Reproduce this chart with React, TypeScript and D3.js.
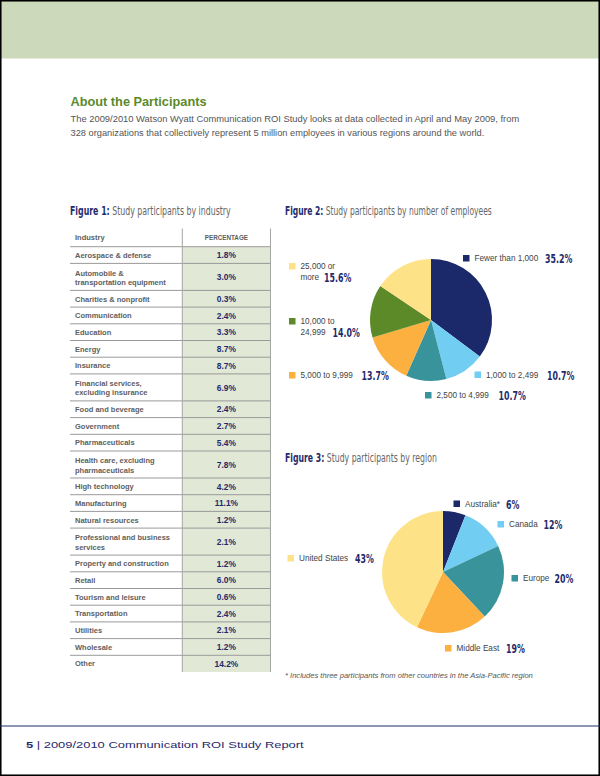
import React from "react";
import * as d3 from "d3";

// ---------- DATA ----------
const industryLabels = [
  "Aerospace & defense",
  "Automobile &\ntransportation equipment",
  "Charities & nonprofit",
  "Communication",
  "Education",
  "Energy",
  "Insurance",
  "Financial services,\nexcluding insurance",
  "Food and beverage",
  "Government",
  "Pharmaceuticals",
  "Health care, excluding\npharmaceuticals",
  "High technology",
  "Manufacturing",
  "Natural resources",
  "Professional and business\nservices",
  "Property and construction",
  "Retail",
  "Tourism and leisure",
  "Transportation",
  "Utilities",
  "Wholesale",
  "Other",
];
const industryValues = [1.8, 3.0, 0.3, 2.4, 3.3, 8.7, 8.7, 6.9, 2.4, 2.7, 5.4, 7.8, 4.2, 11.1, 1.2, 2.1, 1.2, 6.0, 0.6, 2.4, 2.1, 1.2, 14.2];

const employeeCategories = ["Fewer than 1,000", "1,000 to 2,499", "2,500 to 4,999", "5,000 to 9,999", "10,000 to\n24,999", "25,000 or\nmore"];
const employeeValues = [35.2, 10.7, 10.7, 13.7, 14.0, 15.6];
const employeeColors = ["#1b2869", "#72cdf2", "#38939b", "#fbb040", "#5d8a28", "#fde287"];

const regionCategories = ["Australia*", "Canada", "Europe", "Middle East", "United States"];
const regionValues = [6, 12, 20, 19, 43];
const regionColors = ["#1b2869", "#72cdf2", "#38939b", "#fbb040", "#fde287"];

// ---------- LAYOUT ----------
const NAVY = "#1f2a6b";
const GRAY = "#5e5e5e";
const NARROW = "'Liberation Sans Narrow', 'DejaVu Sans Condensed', 'Arial Narrow', sans-serif";
const SANS = "'Liberation Sans', Arial, Helvetica, sans-serif";
const PCT_SCALE = 0.7;

// legend placement: square x, square y, percent x
const employeeLegend = [
  { sx: 463, sy: 255, px: 545 },
  { sx: 474.5, sy: 371.5, px: 547 },
  { sx: 425, sy: 392, px: 498.5 },
  { sx: 289, sy: 372, px: 361.5 },
  { sx: 289, sy: 318, px: 332.5 },
  { sx: 289, sy: 263, px: 324 },
];
const regionLegend = [
  { sx: 453.5, sy: 500.5, px: 506 },
  { sx: 497.5, sy: 521, px: 543.5 },
  { sx: 511.5, sy: 575, px: 554.5 },
  { sx: 445, sy: 645, px: 506 },
  { sx: 287.5, sy: 555, px: 355 },
];

function FitText({ x, y, width, children, ...rest }: any) {
  const ref = React.useRef<SVGTextElement>(null);
  const [s, setS] = React.useState(1);
  React.useLayoutEffect(() => {
    if (ref.current) {
      const w = ref.current.getComputedTextLength();
      if (w > 0) setS(width / w);
    }
  }, [width]);
  return (
    <text ref={ref} transform={`translate(${x},${y}) scale(${s},1)`} {...rest}>
      {children}
    </text>
  );
}

function Pie({ values, colors, cx, cy, r }: { values: number[]; colors: string[]; cx: number; cy: number; r: number }) {
  const arcs = d3.pie<number>().sort(null).value((d) => d)(values);
  const arc = d3.arc<d3.PieArcDatum<number>>().innerRadius(0).outerRadius(r);
  return (
    <g transform={`translate(${cx},${cy})`}>
      {arcs.map((a, i) => (
        <path key={i} d={arc(a) || ""} fill={colors[i]} />
      ))}
    </g>
  );
}

function Legend({ cats, values, colors, layout, fmt }: any) {
  return (
    <g>
      {cats.map((c: string, i: number) => {
        const L = layout[i];
        const lines = c.split("\n");
        const tx = L.sx + 11.5;
        const base = L.sy + 6;
        const lastBase = base + (lines.length - 1) * 11;
        return (
          <g key={i}>
            <rect x={L.sx} y={L.sy} width={6.5} height={6.5} fill={colors[i]} />
            {lines.map((ln, j) => (
              <text key={j} x={tx} y={base + j * 11} fontFamily={SANS} fontSize={8.2} fill="#444">
                {ln}
              </text>
            ))}
            <text
              transform={`translate(${L.px},${lastBase + 2}) scale(${PCT_SCALE},1)`}
              fontFamily={NARROW}
              fontWeight="bold"
              fontSize={12.5}
              fill={NAVY}
            >
              {fmt(values[i])}
            </text>
          </g>
        );
      })}
    </g>
  );
}

export default function App() {
  // table geometry
  const tX0 = 70, tX1 = 182.3, tX2 = 270.5;
  const headerTop = 228.5, headerBottom = 246.7;
  const rowH = (n: number) => (n > 1 ? 27 : 16.7);
  let acc = headerBottom;
  const rows = industryLabels.map((lab, i) => {
    const lines = lab.split("\n");
    const y0 = acc;
    const h = rowH(lines.length);
    acc += h;
    return { lines, y0, h, v: industryValues[i] };
  });
  const tableBottom = acc;
  const valX = (tX1 + tX2) / 2;

  return (
    <svg
      width={600}
      height={776}
      style={{ position: "absolute", left: 0, top: 0, display: "block", background: "#fff" }}
    >
      {/* header band */}
      <rect x={0} y={0} width={600} height={58.5} fill="#cdd9bb" />
      {/* page frame */}
      <rect x={0.75} y={0.75} width={598.5} height={774.5} fill="none" stroke="#000" strokeWidth={1.6} />

      {/* intro */}
      <text x={70.5} y={105.7} fontFamily={SANS} fontWeight="bold" fontSize={12.75} fill="#5b8a2b">
        About the Participants
      </text>
      <FitText x={70.5} y={122} width={449} fontFamily={SANS} fontSize={8.6} fill="#555">
        The 2009/2010 Watson Wyatt Communication ROI Study looks at data collected in April and May 2009, from
      </FitText>
      <FitText x={70.5} y={135.5} width={414} fontFamily={SANS} fontSize={8.6} fill="#555">
        328 organizations that collectively represent 5 million employees in various regions around the world.
      </FitText>

      {/* figure titles */}
      <FitText x={70} y={215} width={161} fontFamily={NARROW} fontSize={11.5}>
        <tspan fill={NAVY} fontWeight="bold">Figure 1:</tspan>
        <tspan fill="#666"> Study participants by industry</tspan>
      </FitText>
      <FitText x={285} y={214.5} width={207} fontFamily={NARROW} fontSize={11.5}>
        <tspan fill={NAVY} fontWeight="bold">Figure 2:</tspan>
        <tspan fill="#666"> Study participants by number of employees</tspan>
      </FitText>
      <FitText x={285} y={461.5} width={152} fontFamily={NARROW} fontSize={11.5}>
        <tspan fill={NAVY} fontWeight="bold">Figure 3:</tspan>
        <tspan fill="#666"> Study participants by region</tspan>
      </FitText>

      {/* table */}
      <rect x={tX1} y={headerBottom} width={tX2 - tX1} height={tableBottom - headerBottom} fill="#e1e8d5" />
      <text x={75} y={239.5} fontFamily={SANS} fontWeight="bold" fontSize={7.5} fill={GRAY}>
        Industry
      </text>
      <text x={valX} y={239.5} textAnchor="middle" fontFamily={SANS} fontWeight="bold" fontSize={6.3} fill={GRAY}>
        PERCENTAGE
      </text>
      <line x1={tX0} x2={tX2} y1={headerBottom} y2={headerBottom} stroke="#9a9a9a" strokeWidth={1} />
      {rows.map((r, i) => {
        const mid = r.y0 + r.h / 2;
        return (
          <g key={i}>
            {r.lines.length === 1 ? (
              <text x={75} y={mid + 2.8} fontFamily={SANS} fontWeight="bold" fontSize={7.5} fill={GRAY}>
                {r.lines[0]}
              </text>
            ) : (
              r.lines.map((ln, j) => (
                <text key={j} x={75} y={r.y0 + 12.3 + j * 9.2} fontFamily={SANS} fontWeight="bold" fontSize={7.5} fill={GRAY}>
                  {ln}
                </text>
              ))
            )}
            <text x={valX} y={mid + 3.2} textAnchor="middle" fontFamily={SANS} fontWeight="bold" fontSize={8.4} fill={NAVY}>
              {d3.format(".1f")(r.v)}%
            </text>
            {i < rows.length - 1 && (
              <line x1={tX0} x2={tX2} y1={r.y0 + r.h} y2={r.y0 + r.h} stroke="#9a9a9a" strokeWidth={1} />
            )}
          </g>
        );
      })}
      <line x1={tX1} x2={tX1} y1={headerTop} y2={tableBottom} stroke="#a5a5a5" strokeWidth={1} />
      <line x1={tX2} x2={tX2} y1={headerTop} y2={tableBottom} stroke="#a5a5a5" strokeWidth={1} />

      {/* figure 2 pie */}
      <Pie values={employeeValues} colors={employeeColors} cx={431} cy={320} r={61} />
      <Legend
        cats={employeeCategories}
        values={employeeValues}
        colors={employeeColors}
        layout={employeeLegend}
        fmt={(v: number) => d3.format(".1f")(v) + "%"}
      />

      {/* figure 3 pie */}
      <Pie values={regionValues} colors={regionColors} cx={443} cy={572} r={61} />
      <Legend
        cats={regionCategories}
        values={regionValues}
        colors={regionColors}
        layout={regionLegend}
        fmt={(v: number) => d3.format("d")(v) + "%"}
      />
      <FitText x={285} y={677.5} width={248} fontFamily={SANS} fontStyle="italic" fontSize={6.6} fill="#555">
        * Includes three participants from other countries in the Asia-Pacific region
      </FitText>

      {/* footer */}
      <line x1={0} x2={600} y1={726} y2={726} stroke={NAVY} strokeWidth={1.2} />
      <FitText x={26} y={747.5} width={278} fontFamily={SANS} fontSize={9.6} fill={NAVY}>
        <tspan fontWeight="bold">5</tspan>
        <tspan fontWeight="normal"> | 2009/2010 Communication ROI Study Report</tspan>
      </FitText>
    </svg>
  );
}
